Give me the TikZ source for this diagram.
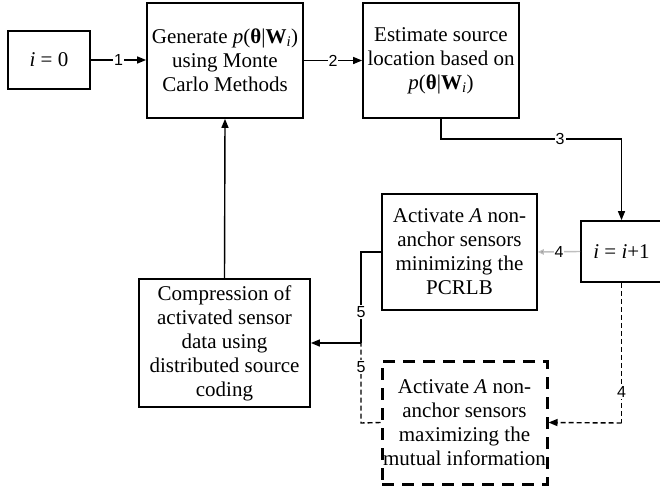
\documentclass[tikz,border=0pt]{standalone}
\usepackage{fontspec}
\setmainfont{Liberation Serif}
\newfontfamily\labfont{Liberation Sans}
\usetikzlibrary{arrows.meta}
\begin{document}
\begin{tikzpicture}[x=1pt,y=-1pt,
  box/.style={draw,line width=1.7pt,align=center,inner sep=0pt,
    font=\fontsize{21}{24}\selectfont},
  conn/.style={line width=1.4pt},
  tip/.style={-{Triangle[length=9pt,width=7pt]}},
  lab/.style={fill=white,inner sep=1pt,font=\labfont\fontsize{16}{18}\selectfont},
  dconn/.style={conn,dash pattern=on 5pt off 3pt},
  dbox/.style={box,line width=3pt,dash pattern=on 12pt off 8pt}]
\useasboundingbox (0,0) rectangle (660,487);
\node[box,minimum width=82pt,minimum height=58pt] (b0) at (49,60) {\textit{i} = 0};
\node[box,minimum width=156pt,minimum height=115pt] (gen) at (225,60.5)
  {Generate \textit{p}(\textbf{θ}|\textbf{W}\textsubscript{\textit{i}})\\using Monte\\Carlo Methods};
\node[box,minimum width=156pt,minimum height=115pt] (est) at (441,60.5)
  {Estimate source\\location based on\\\textit{p}(\textbf{θ}|\textbf{W}\textsubscript{\textit{i}})};
\node[box,minimum width=81pt,minimum height=61pt] (inc) at (621.5,251.5)
  {\textit{i} = \textit{i}+1};
\node[box,minimum width=155pt,minimum height=116pt] (pcr) at (459.5,252)
  {Activate \textit{A} non-\\anchor sensors\\minimizing the\\PCRLB};
\node[box,minimum width=171pt,minimum height=128pt] (comp) at (224.5,343)
  {Compression of\\activated sensor\\data using\\distributed source\\coding};
\node[dbox,minimum width=165pt,minimum height=123pt] (mi) at (464.5,422.5)
  {Activate \textit{A} non-\\anchor sensors\\maximizing the\\mutual information};
\coordinate (k3a) at (441,139);
\coordinate (k3b) at (621.5,139);
\coordinate (k5a) at (361,252);
\coordinate (k5b) at (361,343);
\coordinate (k4d) at (621.5,423);
\coordinate (k5d) at (361,423);
\draw[conn,tip] (b0.east) -- node[lab,pos=0.5] {1} (gen.west |- b0.east);
\draw[conn,tip] (gen.east) -- node[lab,pos=0.5] {2} (est.west);
\draw[conn] (est.south) -- (k3a) -- node[lab,pos=0.66] {3} (k3b);
\draw[conn,tip] (k3b) -- (inc.north);
\draw[conn,draw=black!25,-{Triangle[length=6pt,width=5.5pt,fill=black]}] (inc.west) -- node[lab,pos=0.5] {4} (pcr.east);
\draw[conn] (pcr.west) -- (k5a) -- node[lab,pos=0.66] {5} (k5b);
\draw[conn,tip] (k5b) -- (comp.east);
\draw[conn,tip] (comp.north) -- (gen.south);
\draw[dconn] (inc.south) -- node[lab,pos=0.78] {4} (k4d);
\draw[dconn,tip] (k4d) -- (mi.east);
\draw[dconn] (mi.west) -- (k5d) -- node[lab,pos=0.7] {5} (k5b);
\end{tikzpicture}
\end{document}
